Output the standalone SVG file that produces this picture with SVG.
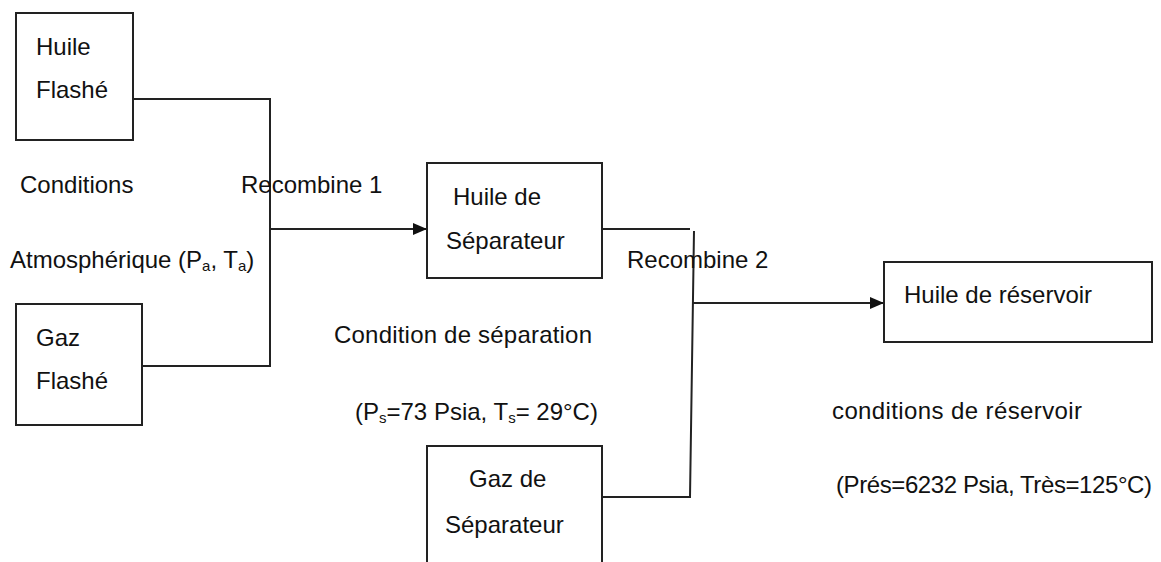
<svg xmlns="http://www.w3.org/2000/svg" width="1161" height="562" viewBox="0 0 1161 562">
<style>
.box{fill:#fff;stroke:#222;stroke-width:2}
.ln{fill:none;stroke:#222;stroke-width:2}
text{font-family:"Liberation Sans",Arial,sans-serif;font-size:24px;fill:#111}
.sub{font-size:15px}
</style>
<defs>
<marker id="arr" viewBox="0 0 14 12" refX="14" refY="6" markerWidth="14" markerHeight="12" markerUnits="userSpaceOnUse" orient="auto">
<path d="M0,0 L14,6 L0,12 Z" fill="#111"/>
</marker>
</defs>
<rect width="1161" height="562" fill="#fff"/>
<g id="connectors">
<polyline class="ln" points="133,99 270,99 270,366 142,366"/>
<line class="ln" x1="270" y1="229" x2="427" y2="229" marker-end="url(#arr)"/>
<line class="ln" x1="602" y1="229" x2="690" y2="229"/>
<polyline class="ln" points="694,231 690,497 602,497"/>
<line class="ln" x1="693" y1="303" x2="884" y2="303" marker-end="url(#arr)"/>
</g>
<g id="huile-flashe">
<rect class="box" x="16" y="13" width="117" height="127"/>
<text x="36" y="55">Huile</text>
<text x="36" y="98">Flashé</text>
</g>
<g id="gaz-flashe">
<rect class="box" x="16" y="304" width="126" height="121"/>
<text x="36" y="346">Gaz</text>
<text x="36" y="389">Flashé</text>
</g>
<g id="huile-separateur">
<rect class="box" x="427" y="163" width="175" height="115"/>
<text x="453" y="205">Huile de</text>
<text x="446" y="249">Séparateur</text>
</g>
<g id="gaz-separateur">
<rect class="box" x="427" y="446" width="175" height="130"/>
<text x="469" y="487">Gaz de</text>
<text x="445" y="533">Séparateur</text>
</g>
<g id="huile-reservoir">
<rect class="box" x="884" y="262" width="268" height="80"/>
<text x="904" y="303">Huile de réservoir</text>
</g>
<g id="labels">
<text x="20" y="193">Conditions</text>
<text x="10" y="268">Atmosphérique  (P<tspan class="sub" dy="3">a</tspan><tspan dy="-3">, T</tspan><tspan class="sub" dy="3">a</tspan><tspan dy="-3">)</tspan></text>
<text x="241" y="193">Recombine 1</text>
<text x="627" y="268">Recombine 2</text>
<text x="334" y="343" textLength="258">Condition de séparation</text>
<text x="355" y="420">(P<tspan class="sub" dy="3">s</tspan><tspan dy="-3">=73 Psia, T</tspan><tspan class="sub" dy="3">s</tspan><tspan dy="-3">= 29°C)</tspan></text>
<text x="832" y="419" textLength="250">conditions de réservoir</text>
<text x="836" y="493" textLength="316">(Prés=6232 Psia, Très=125°C)</text>
</g>
</svg>
